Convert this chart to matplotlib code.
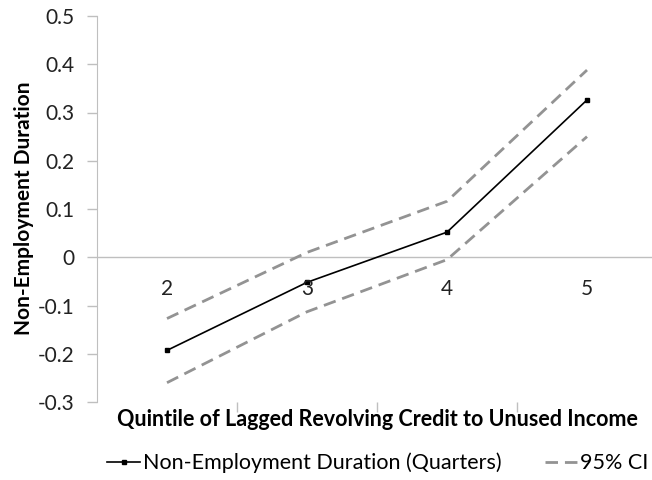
import matplotlib.pyplot as plt

plt.rcParams['font.family'] = ['Lato', 'DejaVu Sans']

quintiles = [2, 3, 4, 5]
duration = [-0.193, -0.052, 0.052, 0.326]
ci_upper = [-0.127, 0.010, 0.116, 0.388]
ci_lower = [-0.260, -0.113, -0.005, 0.250]
yticks = [-0.3, -0.2, -0.1, 0, 0.1, 0.2, 0.3, 0.4, 0.5]

fig = plt.figure(figsize=(6.52, 4.8), dpi=100)
ax = fig.add_axes([97/652, 78/480, 560/652, 386/480])

ax.plot(quintiles, ci_upper, color='#939393', lw=2.0, ls=(0, (4.5, 2.5)))
ax.plot(quintiles, ci_lower, color='#939393', lw=2.0, ls=(0, (4.5, 2.5)),
        label='95% CI')
ax.plot(quintiles, duration, color='black', lw=1.2, marker='s', ms=3.5,
        label='Non-Employment Duration (Quarters)')

ax.set_xlim(1.5, 5.5)
ax.set_ylim(-0.3, 0.5)
ax.set_yticks(yticks)
ax.set_yticklabels(['%g' % v for v in yticks], fontsize=15, color='#222222')
ax.set_xticks([2.5, 3.5, 4.5], minor=False)
ax.set_xticklabels([])
ax.tick_params(axis='both', color='#bfbfbf', length=7, width=1)
ax.tick_params(axis='y', pad=9)

for q in quintiles:
    ax.text(q, -0.066, str(q), ha='center', va='center', fontsize=15,
            color='#222222')

for s in ['top', 'right', 'bottom']:
    ax.spines[s].set_visible(False)
ax.spines['left'].set_color('#bfbfbf')
ax.axhline(0, color='#bfbfbf', lw=1, zorder=0)

fig.text(24/652, 1 - 208/480, 'Non-Employment Duration', rotation=90,
         ha='center', va='center', fontsize=15, fontweight='bold')
fig.text(377/652, 1 - 420/480,
         'Quintile of Lagged Revolving Credit to Unused Income',
         ha='center', va='center', fontsize=15.5, fontweight='bold')

handles, labels = ax.get_legend_handles_labels()
leg = fig.legend(handles[::-1], labels[::-1], loc='center',
                 bbox_to_anchor=(378/652, 1 - 463/480), ncol=2, frameon=False,
                 fontsize=15.5, handlelength=1.5, handletextpad=0.15,
                 columnspacing=2.0)

fig.savefig('out.png', dpi=100)
